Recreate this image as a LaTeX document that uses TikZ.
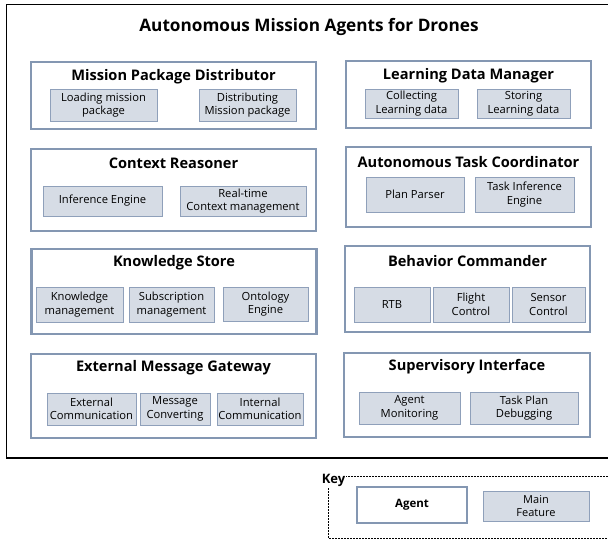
\documentclass[tikz,border=0pt]{standalone}
\usepackage{fontspec}
\setmainfont{Open Sans}
\definecolor{agentline}{RGB}{132,151,178}
\definecolor{featline}{RGB}{143,160,186}
\definecolor{featfill}{RGB}{214,220,229}
\begin{document}
\begin{tikzpicture}[x=1pt,y=-1pt,
  agent/.style={draw=agentline,line width=2.6pt,fill=white,inner sep=0pt},
  feat/.style={draw=featline,line width=0.8pt,fill=featfill,align=center,inner sep=0pt,
    font=\fontsize{11.2}{13.5}\selectfont},
  ttl/.style={font=\bfseries\fontsize{14.6}{17}\selectfont}]
\useasboundingbox (0,0) rectangle (608,540);
\draw[line width=1.2pt] (6.5,4.5) rectangle (640,458);
\node[font=\bfseries\fontsize{17.2}{20}\selectfont] (title) at (309,27) {Autonomous Mission Agents for Drones};
\node[agent,minimum width=285pt,minimum height=67pt] (mpd) at (173.5,95.5) {};
\node[agent,minimum width=285pt,minimum height=82pt] (cr) at (173.5,190) {};
\node[agent,minimum width=285pt,minimum height=85pt] (ks) at (174,291.5) {};
\node[agent,minimum width=285pt,minimum height=84pt] (emg) at (173.5,396) {};
\node[agent,minimum width=245pt,minimum height=67pt] (ldm) at (468.5,94.5) {};
\node[agent,minimum width=245pt,minimum height=80pt] (atc) at (468.5,187) {};
\node[agent,minimum width=245pt,minimum height=86pt] (bc) at (467.5,289) {};
\node[agent,minimum width=246pt,minimum height=84pt] (si) at (467,395) {};
\node[ttl] (mpdt) at (173.5,77) {Mission Package Distributor};
\node[ttl] (crt) at (173.5,163) {Context Reasoner};
\node[ttl] (kst) at (174,263) {Knowledge Store};
\node[ttl] (emgt) at (173.5,368) {External Message Gateway};
\node[ttl] (ldmt) at (468.5,76) {Learning Data Manager};
\node[ttl] (atct) at (468.5,162) {Autonomous Task Coordinator};
\node[ttl] (bct) at (467.5,261) {Behavior Commander};
\node[ttl] (sit) at (467,367) {Supervisory Interface};
\node[feat,minimum width=107pt,minimum height=32pt] (load) at (103.5,105) {Loading mission\\package};
\node[feat,minimum width=97pt,minimum height=32pt] (dist) at (247.5,105) {Distributing\\Mission package};
\node[feat,minimum width=119pt,minimum height=30pt] (infer) at (102.5,201) {Inference Engine};
\node[feat,minimum width=126pt,minimum height=30pt] (rtcm) at (243,201) {Real-time\\Context management};
\node[feat,minimum width=87pt,minimum height=35pt] (kmgmt) at (79.5,304.5) {Knowledge\\management};
\node[feat,minimum width=85pt,minimum height=35pt] (smgmt) at (171.5,304.5) {Subscription\\management};
\node[feat,minimum width=85pt,minimum height=34pt] (onto) at (265.5,304) {Ontology\\Engine};
\node[feat,minimum width=89pt,minimum height=32pt] (extc) at (91.5,409) {External\\Communication};
\node[feat,minimum width=70pt,minimum height=32pt] (msgc) at (175,409) {Message\\Converting};
\node[feat,minimum width=86pt,minimum height=32pt] (intc) at (260,409) {Internal\\Communication};
\node[feat,minimum width=93pt,minimum height=29pt] (coll) at (411.5,103.5) {Collecting\\Learning data};
\node[feat,minimum width=93pt,minimum height=29pt] (stor) at (523.5,103.5) {Storing\\Learning data};
\node[feat,minimum width=98pt,minimum height=35pt] (plan) at (415,194.5) {Plan Parser};
\node[feat,minimum width=99pt,minimum height=35pt] (tie) at (524.5,194.5) {Task Inference\\Engine};
\node[feat,minimum width=76pt,minimum height=35pt] (rtb) at (392,304.5) {RTB};
\node[feat,minimum width=76pt,minimum height=35pt] (flight) at (471,304.5) {Flight\\Control};
\node[feat,minimum width=73pt,minimum height=35pt] (sensor) at (548.5,304.5) {Sensor\\Control};
\node[feat,minimum width=101pt,minimum height=32pt] (amon) at (409.5,408) {Agent\\Monitoring};
\node[feat,minimum width=108pt,minimum height=32pt] (tpd) at (524,408) {Task Plan\\Debugging};
\draw[line width=0.8pt,dash pattern=on 2pt off 1pt] (328,476) rectangle (640,538);
\node[fill=white,inner sep=1pt,font=\bfseries\fontsize{13}{15}\selectfont] (key) at (333.5,480) {Key};
\node[agent,minimum width=110pt,minimum height=36pt,font=\bfseries\fontsize{11.5}{13}\selectfont] (keyagent) at (412,505) {Agent};
\node[feat,minimum width=106pt,minimum height=30pt,font=\fontsize{11}{13}\selectfont] (keyfeat) at (536,506) {Main\\Feature};
\end{tikzpicture}
\end{document}
